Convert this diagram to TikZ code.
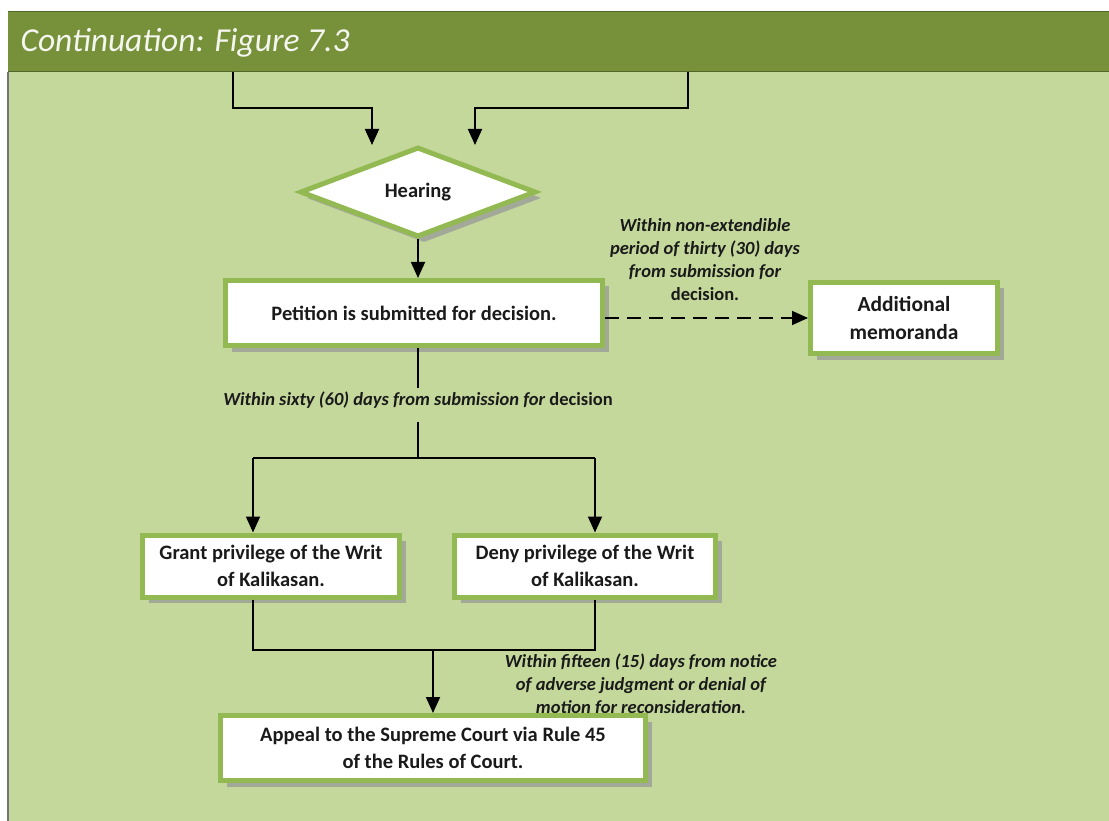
\documentclass[tikz,border=0pt]{standalone}
\usepackage{fontspec}
\setmainfont{Carlito}
\usetikzlibrary{shapes.geometric,shadows,arrows.meta,positioning}
\definecolor{headgreen}{HTML}{77913B}
\definecolor{panelgreen}{HTML}{C4D89C}
\definecolor{rimgreen}{HTML}{93BA52}
\definecolor{shadegray}{HTML}{A3A998}
\definecolor{inkgray}{HTML}{1A1A1A}
\tikzset{%
    flowbox/.style={%
        rectangle, draw=rimgreen, line width=5pt, fill=white,
        align=center, text=inkgray, inner sep=2pt,
        font=\fontsize{20.5}{27}\selectfont\bfseries,
        drop shadow={shadow xshift=6pt, shadow yshift=-6pt,
            fill=shadegray, opacity=1}
    },
    decide/.style={%
        flowbox, diamond, inner sep=0pt
    },
    note/.style={%
        align=center, text=inkgray,
        font=\fontsize{18.5}{23}\selectfont\bfseries\itshape
    },
    flow/.style={line width=1.8pt, draw=black},
    flowarrow/.style={flow, -{Triangle[length=16pt,width=14pt]}}
}

\begin{document}
\begin{tikzpicture}[x=1pt, y=-1pt]
    \useasboundingbox (0,0) rectangle (1109,821);
    \fill[white] (0,0) rectangle (1109,821);
    \fill[panelgreen] (8,12) rectangle (1109,821);
    \draw[black!55, line width=1.2pt] (8,72) -- (8,821);
    \fill[headgreen] (8,12) rectangle (1109,72);
    \draw[headgreen!70!black, line width=1pt] (8,12) -- (1109,12);
    \draw[headgreen!70!black, line width=1pt] (8,72) -- (1109,72);
    \node[anchor=west, text=white!92!headgreen,
          font=\fontsize{33.5}{38}\selectfont\itshape] (title) at (17,43)
        {Continuation: Figure 7.3};

    \coordinate (fromL) at (233,72);
    \coordinate (fromR) at (688,72);
    \coordinate (tipL) at (372,145);
    \coordinate (tipR) at (475,145);

    \node[decide, minimum width=236pt, minimum height=90pt] (hearing) at (418,192) {Hearing};
    \node[flowbox, minimum width=377pt, minimum height=65pt] (petition) at (414,313)
        {Petition is submitted for decision.};
    \node[flowbox, minimum width=187pt, minimum height=71pt,
          font=\fontsize{21.5}{28}\selectfont\bfseries] (memo) at (904,318)
        {Additional\\memoranda};
    \node[note] (thirty) at (705,260)
        {Within non-extendible\\period of thirty (30) days\\from submission for\\\upshape decision.};

    \node[note] (sixty) at (418,400)
        {Within sixty (60) days from submission for {\upshape decision}};
    \coordinate (splitTop) at (418,422);
    \coordinate (split) at (418,458);
    \coordinate (brL) at (253,458);
    \coordinate (brR) at (595,458);

    \node[flowbox, minimum width=257pt, minimum height=62pt] (grant) at (271,566)
        {Grant privilege of the Writ\\of Kalikasan.};
    \node[flowbox, minimum width=261pt, minimum height=62pt] (deny) at (585,566)
        {Deny privilege of the Writ\\of Kalikasan.};
    \coordinate (join) at (433,650);
    \node[note] (fifteen) at (641,685)
        {Within fifteen (15) days from notice\\of adverse judgment or denial of\\motion for reconsideration.};
    \node[flowbox, minimum width=425pt, minimum height=65pt] (appeal) at (433,748)
        {Appeal to the Supreme Court via Rule 45\\of the Rules of Court.};

    \draw[flowarrow] (fromL) |- (372,108) -- (tipL);
    \draw[flowarrow] (fromR) |- (475,108) -- (tipR);
    \draw[flowarrow] (hearing.south) -- (petition.north -| hearing.south);
    \draw[flowarrow, dash pattern=on 14pt off 8pt] (petition.east |- memo) -- (memo.west);
    \draw[flow] (petition.south -| hearing.south) -- (sixty.north -| hearing.south);
    \draw[flow] (splitTop) -- (split);
    \draw[flow] (brL) -- (brR);
    \draw[flowarrow] (brL) -- (brL |- grant.north);
    \draw[flowarrow] (brR) -- (brR |- deny.north);
    \draw[flow] (brL |- grant.south) |- (join) -| (brR |- deny.south);
    \draw[flowarrow] (join) -- (appeal.north);
\end{tikzpicture}
\end{document}
